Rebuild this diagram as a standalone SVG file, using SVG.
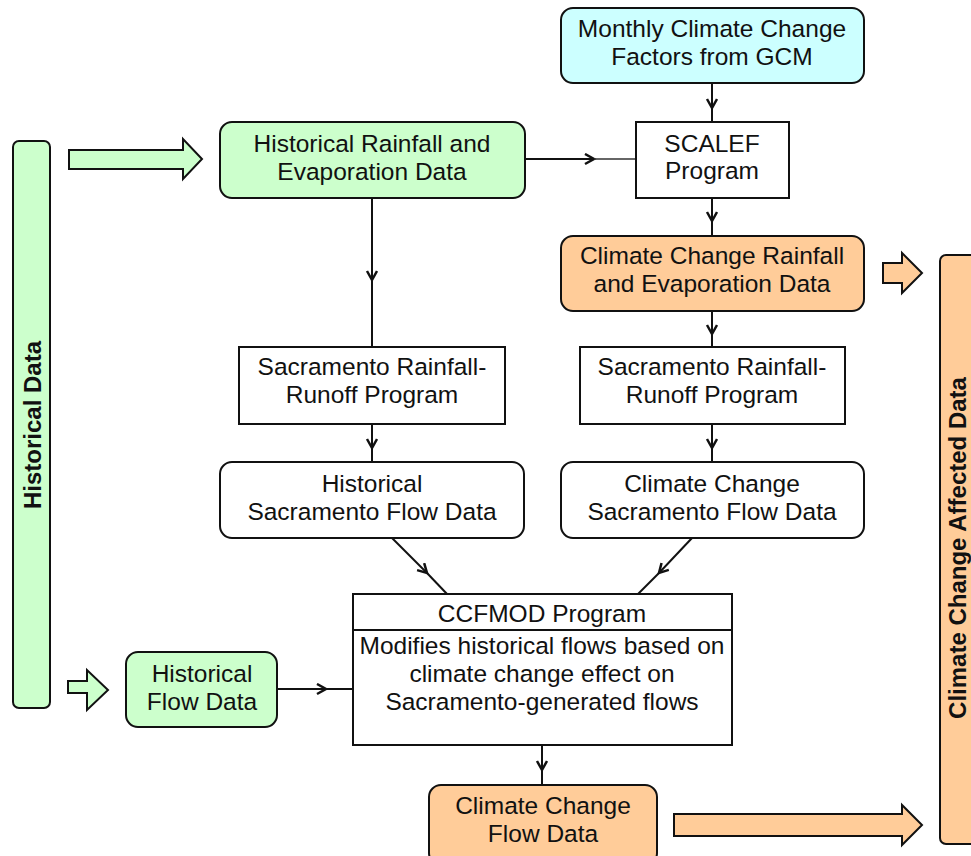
<svg xmlns="http://www.w3.org/2000/svg" width="971" height="856" viewBox="0 0 971 856">
<defs>
<style>
.t{font-family:"Liberation Sans",Arial,sans-serif;font-size:24.5px;fill:#111;text-anchor:middle}
.b{font-weight:bold;font-size:24px}
.box{stroke:#111;stroke-width:2}
.g{fill:#ccffcc}.c{fill:#ccffff}.o{fill:#ffcc99}.w{fill:#fff}
.ln{stroke:#111;stroke-width:2;fill:none}
.ba{stroke:#111;stroke-width:2;stroke-linejoin:miter}
</style>
<marker id="ah" markerWidth="14" markerHeight="14" refX="10" refY="6" orient="auto" markerUnits="userSpaceOnUse">
<path d="M1,1 L10,6 L1,11" fill="none" stroke="#111" stroke-width="2.5"/>
</marker>
</defs>
<rect width="971" height="856" fill="#fff"/>

<g id="historical-data-bar">
<rect class="box g" x="13" y="141" width="37" height="567" rx="6"/>
<text class="t b" transform="translate(41,425) rotate(-90)">Historical Data</text>
</g>
<g id="cc-affected-bar">
<rect class="box o" x="940" y="255" width="45" height="589" rx="6"/>
<text class="t b" transform="translate(966,548) rotate(-90)">Climate Change Affected Data</text>
</g>

<g id="block-arrows">
<path class="ba g" d="M69,150 L183,150 L183,139 L202,159 L183,179 L183,169 L69,169 Z"/>
<path class="ba g" d="M68,681 L87,681 L87,670 L108,690 L87,710 L87,693 L68,693 Z"/>
<path class="ba o" d="M883,263 L902,263 L902,253 L922,273 L902,293 L902,283 L883,283 Z"/>
<path class="ba o" d="M674,814 L902,814 L902,805 L922,825 L902,845 L902,836 L674,836 Z"/>
</g>

<g id="connectors">
<line class="ln" x1="525" y1="159" x2="594" y2="159" marker-end="url(#ah)"/>
<line x1="594" y1="159" x2="636" y2="159" stroke="#333" stroke-width="1.5"/>
<line class="ln" x1="712" y1="83" x2="712" y2="108" marker-end="url(#ah)"/>
<line class="ln" x1="712" y1="108" x2="712" y2="122"/>
<line class="ln" x1="712" y1="198" x2="712" y2="221" marker-end="url(#ah)"/>
<line class="ln" x1="712" y1="221" x2="712" y2="236"/>
<line class="ln" x1="372" y1="198" x2="372" y2="280" marker-end="url(#ah)"/>
<line class="ln" x1="372" y1="280" x2="372" y2="347"/>
<line class="ln" x1="712" y1="311" x2="712" y2="334" marker-end="url(#ah)"/>
<line class="ln" x1="712" y1="334" x2="712" y2="347"/>
<line class="ln" x1="372" y1="424" x2="372" y2="448" marker-end="url(#ah)"/>
<line class="ln" x1="372" y1="448" x2="372" y2="462"/>
<line class="ln" x1="712" y1="424" x2="712" y2="448" marker-end="url(#ah)"/>
<line class="ln" x1="712" y1="448" x2="712" y2="462"/>
<line class="ln" x1="392" y1="538" x2="427" y2="573" marker-end="url(#ah)"/>
<line class="ln" x1="427" y1="573" x2="447" y2="594"/>
<line class="ln" x1="692" y1="538" x2="659" y2="573" marker-end="url(#ah)"/>
<line class="ln" x1="659" y1="573" x2="638" y2="594"/>
<line class="ln" x1="277" y1="689" x2="326" y2="689" marker-end="url(#ah)"/>
<line class="ln" x1="326" y1="689" x2="353" y2="689"/>
<line class="ln" x1="542" y1="745" x2="542" y2="770" marker-end="url(#ah)"/>
<line class="ln" x1="542" y1="770" x2="542" y2="785"/>
</g>

<g id="monthly-factors">
<rect class="box c" x="561" y="8" width="303" height="75" rx="12"/>
<text class="t" x="712" y="37">Monthly Climate Change</text>
<text class="t" x="712" y="65">Factors from GCM</text>
</g>
<g id="hist-rainfall">
<rect class="box g" x="220" y="122" width="305" height="76" rx="12"/>
<text class="t" x="372" y="152">Historical Rainfall and</text>
<text class="t" x="372" y="180">Evaporation Data</text>
</g>
<g id="scalef">
<rect class="box w" x="636" y="122" width="153" height="76"/>
<text class="t" x="712" y="152">SCALEF</text>
<text class="t" x="712" y="179">Program</text>
</g>
<g id="cc-rainfall">
<rect class="box o" x="561" y="236" width="303" height="75" rx="12"/>
<text class="t" x="712" y="264">Climate Change Rainfall</text>
<text class="t" x="712" y="292">and Evaporation Data</text>
</g>
<g id="sac-left">
<rect class="box w" x="239" y="347" width="266" height="77"/>
<text class="t" x="372" y="375">Sacramento Rainfall-</text>
<text class="t" x="372" y="403">Runoff Program</text>
</g>
<g id="sac-right">
<rect class="box w" x="580" y="347" width="265" height="77"/>
<text class="t" x="712" y="375">Sacramento Rainfall-</text>
<text class="t" x="712" y="403">Runoff Program</text>
</g>
<g id="hist-sac-flow">
<rect class="box w" x="220" y="462" width="304" height="76" rx="12"/>
<text class="t" x="372" y="492">Historical</text>
<text class="t" x="372" y="520">Sacramento Flow Data</text>
</g>
<g id="cc-sac-flow">
<rect class="box w" x="561" y="462" width="303" height="76" rx="12"/>
<text class="t" x="712" y="492">Climate Change</text>
<text class="t" x="712" y="520">Sacramento Flow Data</text>
</g>
<g id="ccfmod">
<rect class="box w" x="353" y="594" width="379" height="151"/>
<line class="ln" x1="353" y1="630" x2="732" y2="630"/>
<text class="t" x="542" y="622">CCFMOD Program</text>
<text class="t" x="542" y="654">Modifies historical flows based on</text>
<text class="t" x="542" y="682">climate change effect on</text>
<text class="t" x="542" y="710">Sacramento-generated flows</text>
</g>
<g id="hist-flow">
<rect class="box g" x="126" y="652" width="151" height="75" rx="12"/>
<text class="t" x="202" y="682">Historical</text>
<text class="t" x="202" y="710">Flow Data</text>
</g>
<g id="cc-flow">
<rect class="box o" x="429" y="785" width="228" height="80" rx="12"/>
<text class="t" x="543" y="814">Climate Change</text>
<text class="t" x="543" y="842">Flow Data</text>
</g>
</svg>
